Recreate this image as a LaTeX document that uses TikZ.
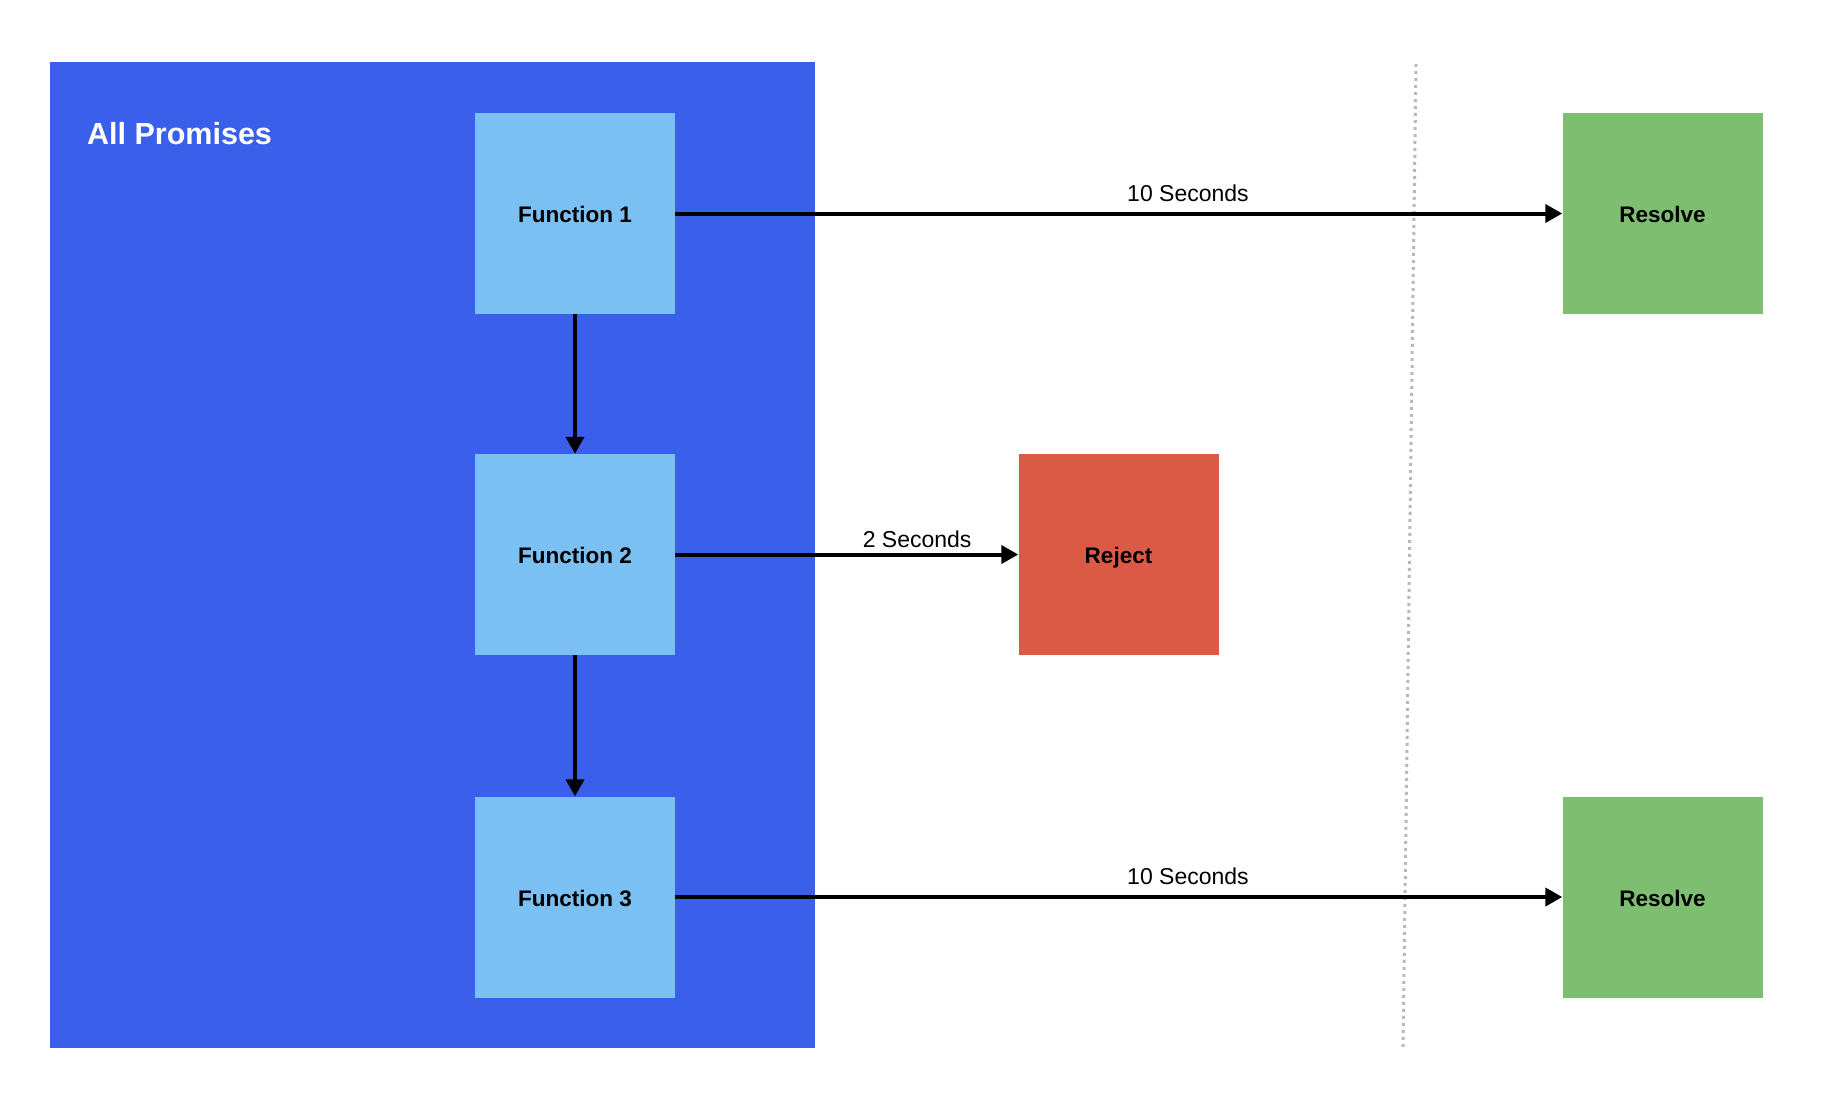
\documentclass[tikz,border=0pt]{standalone}
\usepackage{fontspec}
\setmainfont{Liberation Sans}
\usetikzlibrary{arrows.meta}
\definecolor{bigblue}{RGB}{58,95,235}
\definecolor{fnblue}{RGB}{122,192,242}
\definecolor{rejred}{RGB}{219,90,70}
\definecolor{resgreen}{RGB}{125,190,112}
\definecolor{dotgray}{RGB}{185,185,185}
\tikzset{
  box/.style={rectangle, minimum width=200pt, minimum height=201pt, inner sep=0pt, font=\fontsize{22.5}{26}\selectfont\bfseries, text=black, text height=20pt, text depth=2pt},
  fnbox/.style={box, fill=fnblue},
  rejbox/.style={box, fill=rejred},
  resbox/.style={box, fill=resgreen},
  conn/.style={line width=4pt, -{Triangle[length=17pt,width=18pt]}},
  lbl/.style={font=\fontsize{23}{27}\selectfont, anchor=south, inner sep=0pt},
}
\begin{document}
\begin{tikzpicture}[x=1pt,y=-1pt]
\useasboundingbox (0,0) rectangle (1822,1104);
\fill[white] (0,0) rectangle (1822,1104);
\node[fill=bigblue, minimum width=765pt, minimum height=986pt, inner sep=0pt, anchor=north west] (group) at (50,62) {};
\node[anchor=west, text=white, font=\fontsize{30.5}{34}\selectfont\bfseries, inner sep=0pt] (title) at (87,134) {All Promises};
\coordinate (dtop) at (1416,64);
\coordinate (dbot) at (1403,1048);
\draw[dotgray, line width=3pt, dash pattern=on 3pt off 4pt] (dtop) -- (dbot);
\node[fnbox] (f1) at (575,213.5) {Function 1};
\node[fnbox] (f2) at (575,554.5) {Function 2};
\node[fnbox] (f3) at (575,897) {Function 3};
\node[rejbox] (rej) at (1118.5,554.5) {Reject};
\node[resbox] (res1) at (1662.5,213.5) {Resolve};
\node[resbox] (res2) at (1662.5,897) {Resolve};
\draw[conn] (f1) -- (f2);
\draw[conn] (f2) -- (f3);
\draw[conn] (f1.east) -- node[lbl, pos=0.578, yshift=10pt] {10 Seconds} (res1.west);
\draw[conn] (f2.east) -- node[lbl, pos=0.705, yshift=5pt] {2 Seconds} (rej.west);
\draw[conn] (f3.east) -- node[lbl, pos=0.578, yshift=10pt] {10 Seconds} (res2.west);
\end{tikzpicture}
\end{document}
